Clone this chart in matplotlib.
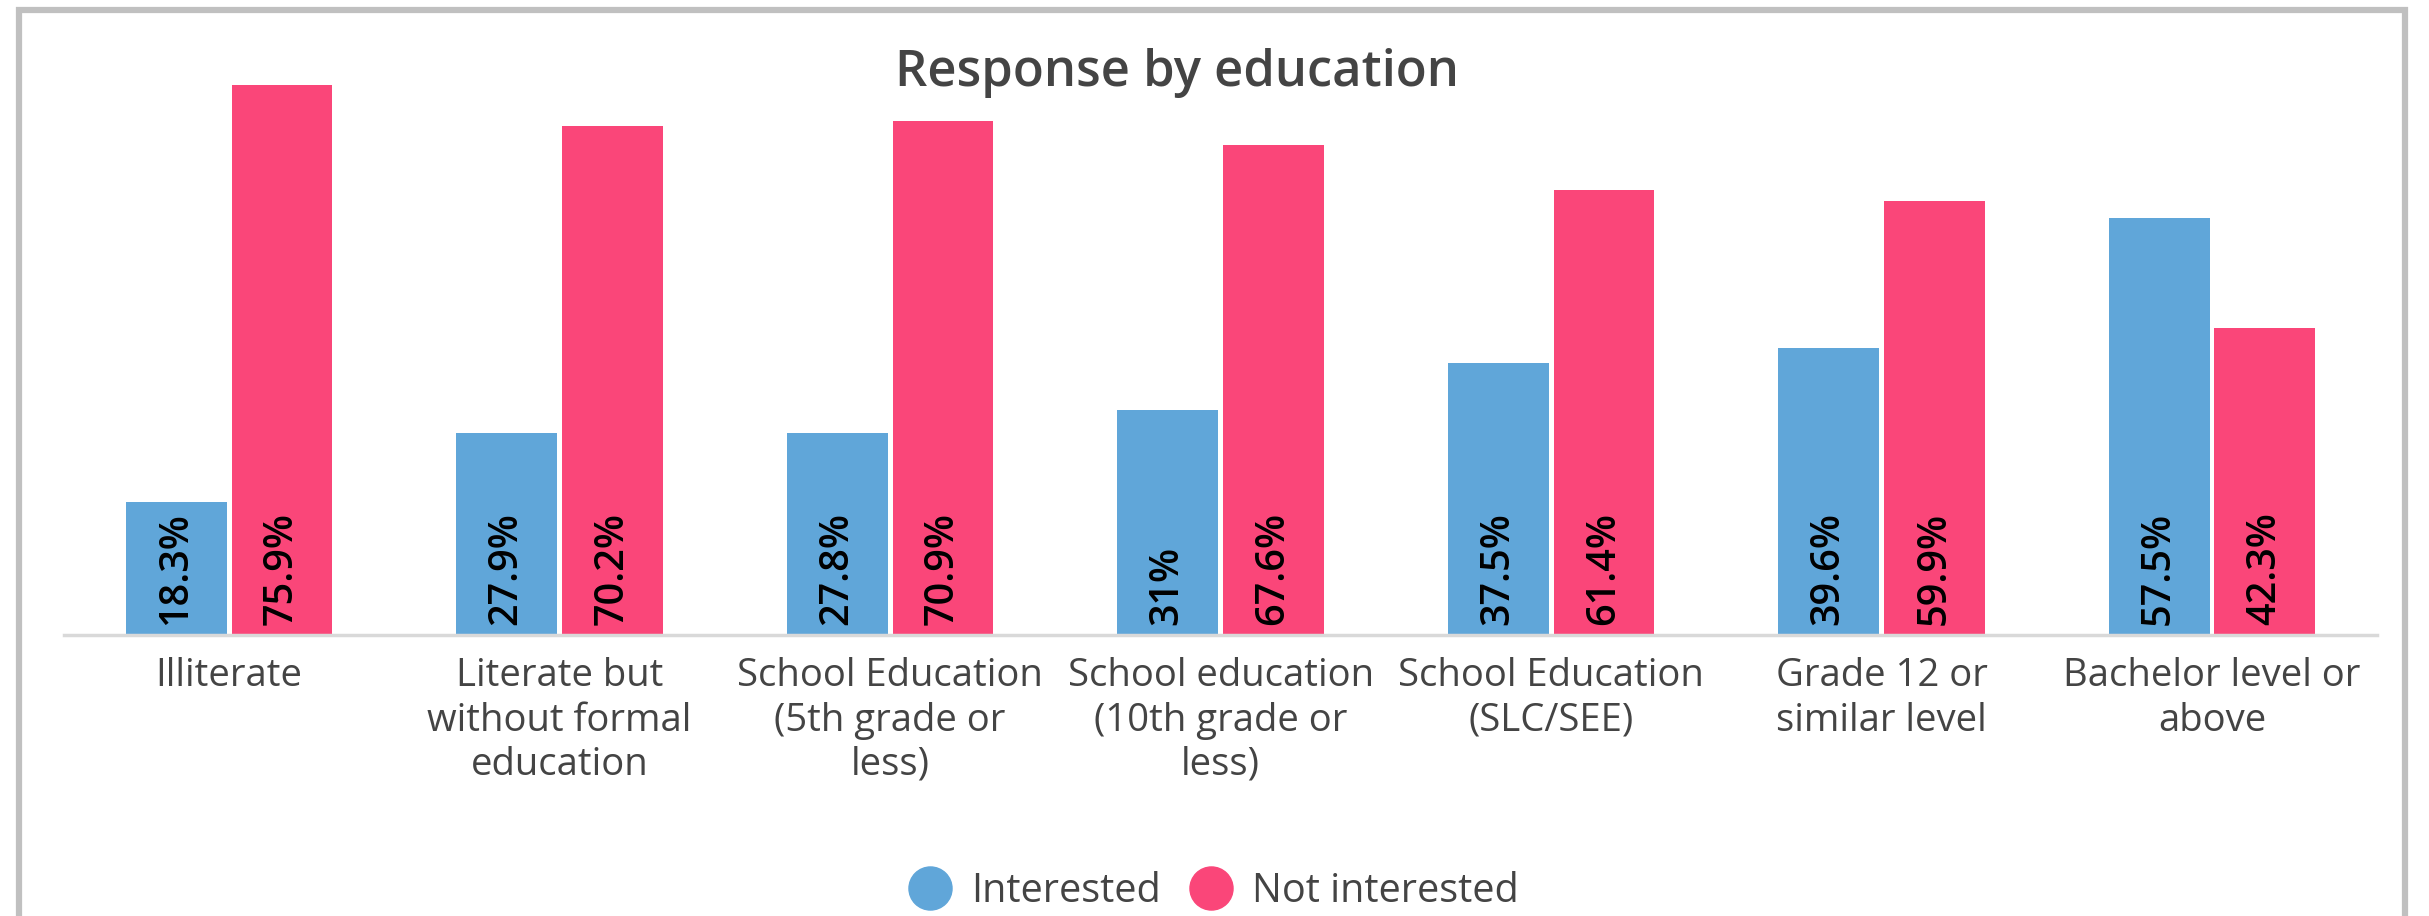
import matplotlib
matplotlib.use('Agg')
import matplotlib.pyplot as plt
from matplotlib.lines import Line2D
from matplotlib.patches import Rectangle
import numpy as np

categories = ['Illiterate', 'Literate but\nwithout formal\neducation', 'School Education\n(5th grade or\nless)',
              'School education\n(10th grade or\nless)', 'School Education\n(SLC/SEE)', 'Grade 12 or\nsimilar level',
              'Bachelor level or\nabove']
interested = [18.3, 27.9, 27.8, 31, 37.5, 39.6, 57.5]
not_interested = [75.9, 70.2, 70.9, 67.6, 61.4, 59.9, 42.3]
interested_labels = ['18.3%', '27.9%', '27.8%', '31%', '37.5%', '39.6%', '57.5%']
not_interested_labels = ['75.9%', '70.2%', '70.9%', '67.6%', '61.4%', '59.9%', '42.3%']
series_names = ['Interested', 'Not interested']

blue = '#60a6d9'
pink = '#fa4679'
text_col = '#444444'

plt.rcParams['font.family'] = ['Open Sans', 'DejaVu Sans']

fig = plt.figure(figsize=(24.29, 9.16), dpi=100)
ax = fig.add_axes([0.0263, 0.3068, 0.9524, 0.633])

x = np.arange(len(categories))
w = 0.305
off = 0.16
b1 = ax.bar(x - off, interested, w, color=blue)
b2 = ax.bar(x + off, not_interested, w, color=pink)

for bars, labels in [(b1, interested_labels), (b2, not_interested_labels)]:
    for rect, lab in zip(bars, labels):
        ax.text(rect.get_x() + rect.get_width() / 2, 1.4, lab, rotation=90,
                ha='center', va='bottom', fontsize=28.5, color='black', fontweight='semibold')

ax.set_xlim(-0.5, len(categories) - 0.5)
ax.set_ylim(0, 80)
ax.set_yticks([])
ax.set_xticks(x)
ax.set_xticklabels(categories, fontsize=27.5, color=text_col, linespacing=1.22)
ax.tick_params(axis='x', length=0, pad=16)
for s in ['top', 'right', 'left']:
    ax.spines[s].set_visible(False)
ax.spines['bottom'].set_color('#d9d9d9')
ax.spines['bottom'].set_linewidth(2.5)

fig.text(0.4845, 0.92, 'Response by education', ha='center', va='center',
         fontsize=36.5, color=text_col, fontweight='semibold')

handles = [Line2D([], [], marker='o', linestyle='', markersize=31, color=c) for c in (blue, pink)]
fig.legend(handles=handles, labels=series_names, loc='center',
           bbox_to_anchor=(0.5, 0.027), ncol=2, frameon=False,
           fontsize=28.5, handlelength=1.0, handletextpad=0.55,
           columnspacing=0.75, labelcolor=text_col)

fig.patches.append(Rectangle((19 / 2429, -0.1), (2405 - 19) / 2429, 1.1 - 10 / 916,
                             transform=fig.transFigure, fill=False,
                             edgecolor='#c0c0c0', linewidth=4.5))

fig.savefig('out.png', dpi=100)
